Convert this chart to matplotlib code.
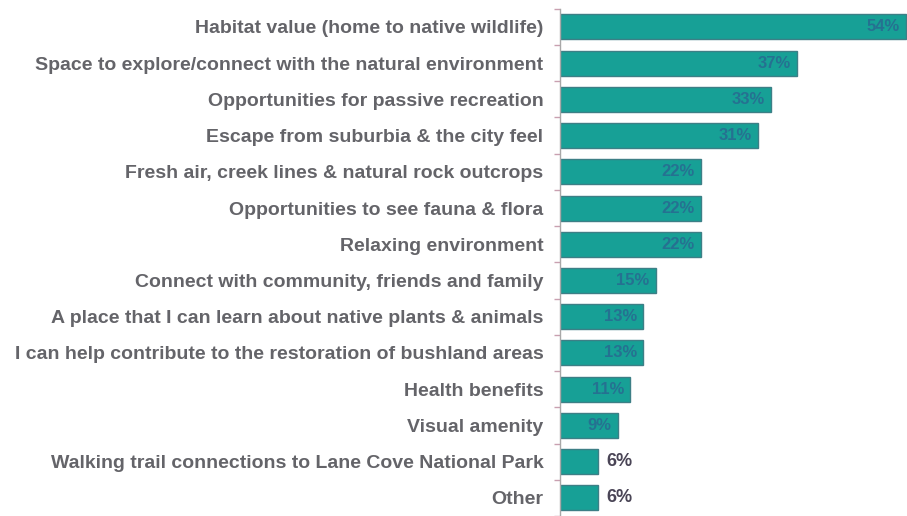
import matplotlib.pyplot as plt
import numpy as np

plt.rcParams['font.family'] = ['Liberation Sans', 'DejaVu Sans']

categories = [
    "Habitat value (home to native wildlife)",
    "Space to explore/connect with the natural environment",
    "Opportunities for passive recreation",
    "Escape from suburbia & the city feel",
    "Fresh air, creek lines & natural rock outcrops",
    "Opportunities to see fauna & flora",
    "Relaxing environment",
    "Connect with community, friends and family",
    "A place that I can learn about native plants & animals",
    "I can help contribute to the restoration of bushland areas",
    "Health benefits",
    "Visual amenity",
    "Walking trail connections to Lane Cove National Park",
    "Other",
]
values = [54, 37, 33, 31, 22, 22, 22, 15, 13, 13, 11, 9, 6, 6]

bar_color = "#17a096"
edge_color = "#3d7f86"
inner_text = "#2c5d8f"
label_color = "#646469"

fig = plt.figure(figsize=(9.07, 5.16), dpi=100)
ax = fig.add_axes([560 / 907, 0, 1 - 560 / 907, 1 - 8.8 / 516])

y = np.arange(len(categories))
ax.barh(y, values, height=0.69, color=bar_color, edgecolor=edge_color, linewidth=1.0)

xmax = 54.2
ax.set_xlim(0, xmax)
ax.set_ylim(13.44, -0.5)

for yi, v in zip(y, values):
    if v > 8:
        ax.text(v - 1.0, yi, f"{v}%", ha="right", va="center", fontsize=12,
                fontweight="bold", color=inner_text, alpha=0.7)
    else:
        ax.text(v + 1.3, yi, f"{v}%", ha="left", va="center", fontsize=13,
                fontweight="bold", color="#4a4556")

ax.set_yticks(y)
ax.set_yticklabels(categories, fontsize=14, fontweight="bold", color=label_color)
ax.tick_params(axis="y", which="major", length=0, pad=12)
ax.set_yticks(np.arange(-0.5, len(categories), 1), minor=True)
ax.tick_params(axis="y", which="minor", length=4, color="#c9a0b0", width=1, direction="out")
ax.set_xticks([])

for s in ["top", "right", "bottom"]:
    ax.spines[s].set_visible(False)
ax.spines["left"].set_color("#a8a8a8")
ax.spines["left"].set_linewidth(1.0)

fig.savefig("out.png", dpi=100)
